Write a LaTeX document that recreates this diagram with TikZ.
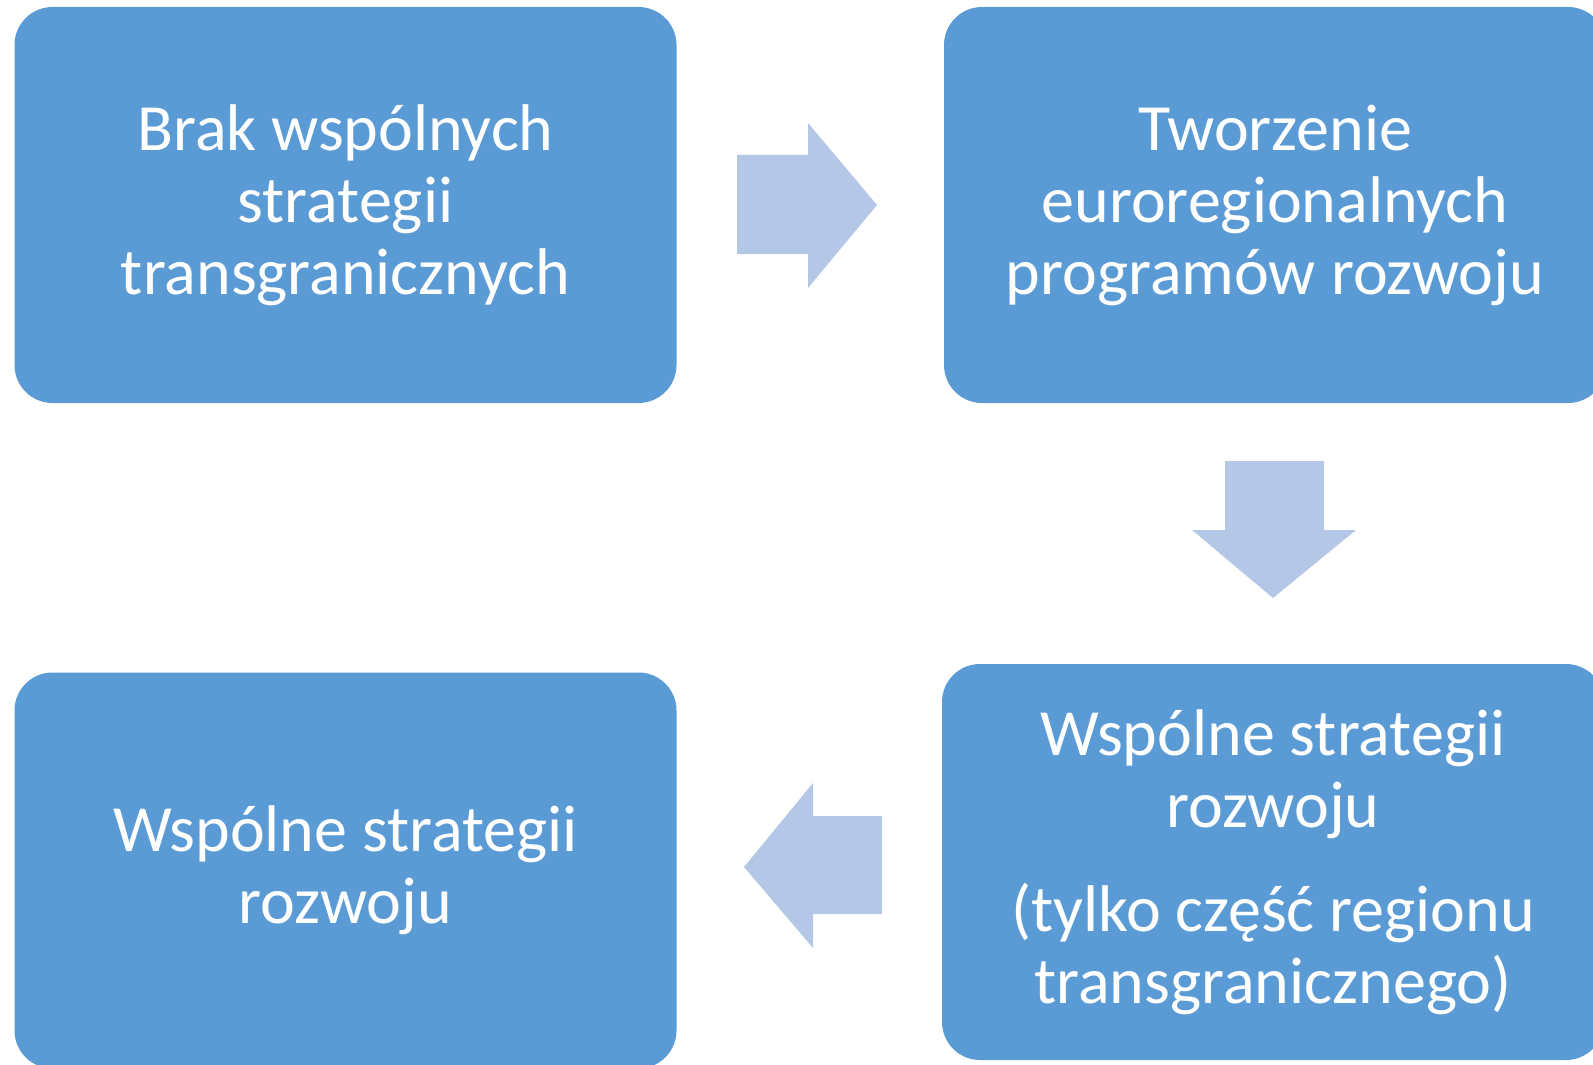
\documentclass[tikz,border=0pt]{standalone}
\usepackage{fontspec}
\setmainfont{Carlito}
\usetikzlibrary{positioning}
\definecolor{boxblue}{HTML}{5B9BD5}
\definecolor{arrowblue}{HTML}{B4C7E7}

\begin{document}
\begin{tikzpicture}[x=0.5pt,y=-0.5pt,
every node/.style={fill=boxblue,text=white,rounded corners=19pt,align=center,inner sep=0pt,
  minimum width=331pt,minimum height=198pt,font=\fontsize{33}{36}\selectfont},
blockarrow/.style={fill=arrowblue}]
\useasboundingbox (0,0) rectangle (1593,1064);
\node (brak) at (345.5,205) {Brak wspólnych\\strategii\\transgranicznych};
\node (tworz) at (1275,205) {Tworzenie\\euroregionalnych\\programów rozwoju};
\node (czesc) at (1273,862) {Wspólne strategii\\rozwoju\\[16pt](tylko część regionu\\transgranicznego)};
\node (wspol) at (345.5,870.5) {Wspólne strategii\\rozwoju};
% block arrows
\fill[blockarrow] (737,155) -- (808,155) -- (808,123) -- (877,205) -- (808,288) -- (808,254) -- (737,254) -- cycle;
\fill[blockarrow] (1225,461) -- (1324,461) -- (1324,530) -- (1356,530) -- (1273,598) -- (1192,530) -- (1225,530) -- cycle;
\fill[blockarrow] (882,816) -- (813,816) -- (813,783) -- (744,867) -- (813,948) -- (813,914) -- (882,914) -- cycle;
\end{tikzpicture}
\end{document}
